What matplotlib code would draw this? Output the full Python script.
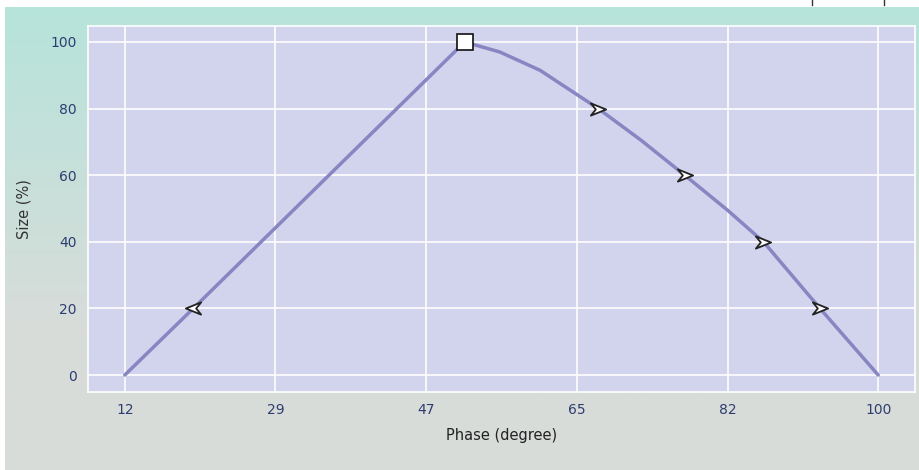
import matplotlib
matplotlib.use("Agg")
import matplotlib.pyplot as plt
import numpy as np
from matplotlib.path import Path
from matplotlib.lines import Line2D

# values
phase = [12, 20, 51.7, 55.8, 60.5, 67.3, 72.3, 77.4, 82.4, 86.6, 93.2, 100]
size = [0, 20, 100, 97, 91.5, 80, 70.5, 60, 49.5, 40, 20, 0]

# marked points
left_x, left_y = [20], [20]
peak_x, peak_y = [51.7], [100]
right_x = [67.3, 77.4, 86.6, 93.2]
right_y = [80, 60, 40, 20]

xticks = [12, 29.6, 47.2, 64.8, 82.4, 100]
xticklabels = ["12", "29", "47", "65", "82", "100"]
yticks = [0, 20, 40, 60, 80, 100]

line_color = "#8886c2"
face_color = "#d2d3ec"
text_color = "#2e3d70"

arrow_right = Path([(1, 0), (-1, 0.8), (-0.35, 0), (-1, -0.8), (1, 0)],
                   [Path.MOVETO, Path.LINETO, Path.LINETO, Path.LINETO, Path.CLOSEPOLY])
arrow_left = Path([(-1, 0), (1, 0.8), (0.35, 0), (1, -0.8), (-1, 0)],
                  [Path.MOVETO, Path.LINETO, Path.LINETO, Path.LINETO, Path.CLOSEPOLY])

fig = plt.figure(figsize=(9.19, 4.70), dpi=100)
fig.patch.set_facecolor("white")

# background gradient (teal at top, grey at bottom)
bg = fig.add_axes([5 / 919, 0, 1 - 5 / 919, 1 - 7 / 470], zorder=-10)
top = np.array([182, 228, 219]) / 255
bottom = np.array([216, 220, 217]) / 255
t = np.linspace(0, 1, 256)
t = np.clip(t / 0.7, 0, 1)[:, None]
grad = top * (1 - t) + bottom * t
bg.imshow(grad[:, None, :], aspect="auto", extent=[0, 1, 0, 1])
bg.axis("off")

ax = fig.add_axes([88 / 919, 1 - 392 / 470, (915 - 88) / 919, (392 - 26) / 470])
ax.set_facecolor(face_color)
ax.plot(phase, size, color=line_color, lw=2.5, solid_capstyle="round",
        solid_joinstyle="round", zorder=3)
ax.plot(left_x, left_y, linestyle="none", marker=arrow_left, ms=11,
        mfc="white", mec="#222222", mew=1.3, zorder=4)
ax.plot(right_x, right_y, linestyle="none", marker=arrow_right, ms=11,
        mfc="white", mec="#222222", mew=1.3, zorder=4)
ax.plot(peak_x, peak_y, linestyle="none", marker="s", ms=11,
        mfc="white", mec="#111111", mew=1.2, zorder=5)

ax.set_xlim(7.7, 104.3)
ax.set_ylim(-5.1, 104.8)
ax.set_xticks(xticks)
ax.set_xticklabels(xticklabels)
ax.set_yticks(yticks)
ax.grid(True, color="white", lw=1.2)
ax.set_axisbelow(True)
for s in ax.spines.values():
    s.set_color("white")
    s.set_linewidth(1.2)
ax.tick_params(length=0, colors=text_color, labelsize=10, pad=8)

ax.set_xlabel("Phase (degree)", fontsize=10.5, color="#222222", labelpad=8)
ax.set_ylabel("Size (%)", fontsize=10.5, color="#333333", labelpad=14)

# small clipped marks at the very top right
fig.add_artist(Line2D([812 / 919, 812 / 919], [1, 1 - 5 / 470], color="#333333", lw=1))
fig.add_artist(Line2D([884 / 919, 884 / 919], [1, 1 - 5 / 470], color="#333333", lw=1))

fig.savefig("out.png", dpi=100, facecolor=fig.get_facecolor())
